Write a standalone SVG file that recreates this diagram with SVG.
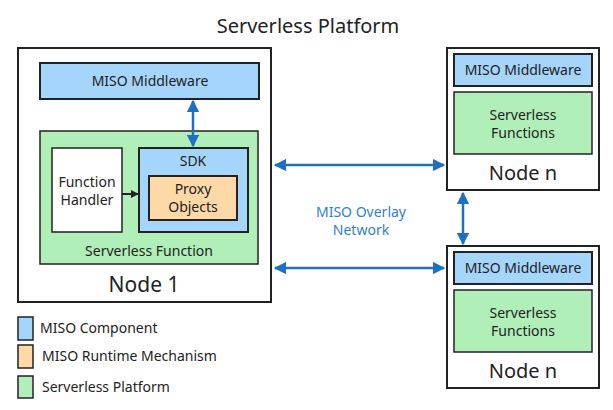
<svg xmlns="http://www.w3.org/2000/svg" width="613" height="410" viewBox="0 0 613 410">
  <defs>
    <style>
      text { font-family: "Noto Sans", "Open Sans", "DejaVu Sans", sans-serif; fill: #222; text-anchor: middle; }
      .lbl { font-size: 14px; }
      .big { font-size: 20px; }
      .box { stroke: #222; stroke-width: 2; }
      .thin { stroke: #222; stroke-width: 1.5; }
      .node { fill: #fff; }
      .miso { fill: #a6d5fb; }
      .green { fill: #b0efb8; }
      .orange { fill: #fdd9a8; }
      .net { stroke: #1f6fc4; stroke-width: 2.5; fill: none; }
      .legend { text-anchor: start; font-size: 14px; }
    </style>
    <marker id="blueHead" viewBox="0 0 10 10" refX="9" refY="5" markerWidth="5" markerHeight="5" orient="auto-start-reverse" markerUnits="strokeWidth">
      <path d="M0,0 L10,5 L0,10 z" fill="#1f6fc4"/>
    </marker>
    <marker id="blackHead" viewBox="0 0 10 10" refX="9" refY="5" markerWidth="4" markerHeight="4" orient="auto" markerUnits="strokeWidth">
      <path d="M0,0 L10,5 L0,10 z" fill="#222"/>
    </marker>
  </defs>

  <rect width="613" height="410" fill="#fff"/>
  <text x="308" y="33" class="big">Serverless Platform</text>

  <!-- Node 1 -->
  <g id="node1">
    <rect x="18" y="48" width="253" height="254" class="box node"/>
    <text x="144" y="292" class="big" style="font-size:21px">Node 1</text>
  </g>
  <g id="node1-middleware">
    <rect x="40" y="63" width="219" height="36" class="box miso"/>
    <text x="150" y="86" class="lbl">MISO Middleware</text>
  </g>
  <g id="node1-function">
    <rect x="40" y="131" width="218" height="133" class="thin green"/>
    <text x="149" y="256" class="lbl">Serverless Function</text>
  </g>
  <g id="function-handler">
    <rect x="52" y="148" width="70" height="84" class="thin node" stroke="#555"/>
    <text x="87" y="187" class="lbl">Function</text>
    <text x="87" y="205" class="lbl">Handler</text>
  </g>
  <g id="sdk">
    <rect x="139" y="148" width="109" height="84" class="box miso"/>
    <text x="193" y="166" class="lbl">SDK</text>
  </g>
  <g id="proxy-objects">
    <rect x="149" y="176" width="88" height="44" class="box orange"/>
    <text x="193" y="194" class="lbl">Proxy</text>
    <text x="193" y="212" class="lbl">Objects</text>
  </g>

  <!-- Node n (upper) -->
  <g id="node-n-top">
    <rect x="447" y="48" width="152" height="142" class="box node"/>
    <text x="523" y="180" class="big">Node n</text>
  </g>
  <g id="node-n-top-middleware">
    <rect x="454" y="54" width="138" height="32" class="box miso"/>
    <text x="523" y="75" class="lbl">MISO Middleware</text>
  </g>
  <g id="node-n-top-functions">
    <rect x="454" y="92" width="138" height="62" class="thin green"/>
    <text x="523" y="120" class="lbl">Serverless</text>
    <text x="523" y="138" class="lbl">Functions</text>
  </g>

  <!-- Node n (lower) -->
  <g id="node-n-bottom">
    <rect x="447" y="246" width="152" height="142" class="box node"/>
    <text x="523" y="378" class="big">Node n</text>
  </g>
  <g id="node-n-bottom-middleware">
    <rect x="454" y="252" width="138" height="32" class="box miso"/>
    <text x="523" y="273" class="lbl">MISO Middleware</text>
  </g>
  <g id="node-n-bottom-functions">
    <rect x="454" y="290" width="138" height="62" class="thin green"/>
    <text x="523" y="318" class="lbl">Serverless</text>
    <text x="523" y="336" class="lbl">Functions</text>
  </g>

  <!-- Connectors -->
  <g id="connectors">
    <line x1="193" y1="101" x2="193" y2="146" class="net" marker-start="url(#blueHead)" marker-end="url(#blueHead)"/>
    <line x1="122" y1="194" x2="138" y2="194" stroke="#222" stroke-width="2" marker-end="url(#blackHead)"/>
    <line x1="275" y1="165" x2="444" y2="165" class="net" marker-start="url(#blueHead)" marker-end="url(#blueHead)"/>
    <line x1="275" y1="268" x2="444" y2="268" class="net" marker-start="url(#blueHead)" marker-end="url(#blueHead)"/>
    <line x1="463" y1="193" x2="463" y2="244" class="net" marker-start="url(#blueHead)" marker-end="url(#blueHead)"/>
    <text x="361" y="217" class="lbl" style="fill:#2f80d0">MISO Overlay</text>
    <text x="361" y="235" class="lbl" style="fill:#2f80d0">Network</text>
  </g>

  <!-- Legend -->
  <g id="legend">
    <rect x="18" y="317" width="15" height="23" class="thin miso"/>
    <text x="40" y="333" class="legend">MISO Component</text>
    <rect x="18" y="345" width="15" height="23" class="thin orange"/>
    <text x="42" y="361" class="legend">MISO Runtime Mechanism</text>
    <rect x="18" y="376" width="15" height="22" class="thin green"/>
    <text x="42" y="392" class="legend">Serverless Platform</text>
  </g>
</svg>
